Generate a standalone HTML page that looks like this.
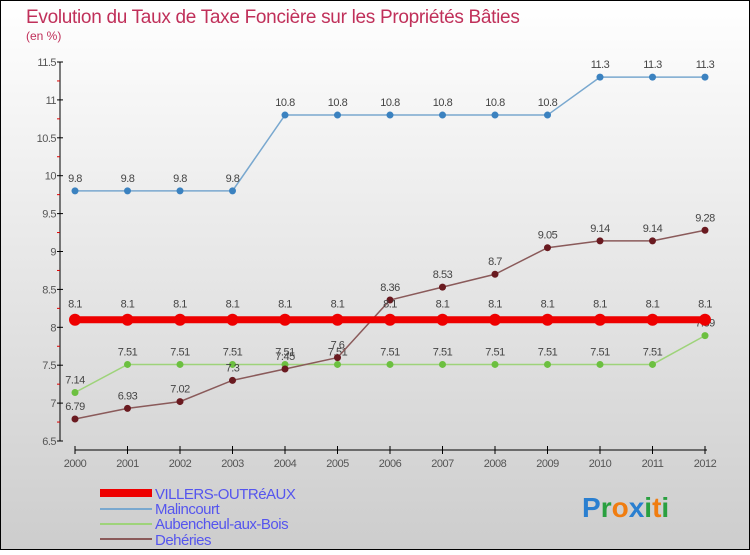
<!DOCTYPE html>
<html><head><meta charset="utf-8"><style>
html,body{margin:0;padding:0}
body{width:750px;height:550px;overflow:hidden;font-family:"Liberation Sans",sans-serif}
</style></head><body>
<svg id="chart" width="750" height="550" xmlns="http://www.w3.org/2000/svg" font-family="Liberation Sans, sans-serif">
<defs><linearGradient id="bg" x1="0" y1="0" x2="0" y2="1"><stop offset="0" stop-color="#ffffff"/><stop offset="1" stop-color="#cdcdcd"/></linearGradient></defs>
<rect x="0.5" y="0.5" width="749" height="549" fill="url(#bg)" stroke="#000"/>
<text x="26" y="23" font-size="19" fill="#c0305a" letter-spacing="-0.3">Evolution du Taux de Taxe Foncière sur les Propriétés Bâties</text>
<text x="26" y="40" font-size="12" fill="#c0305a">(en %)</text>
<g id="axes"></g>
<g id="series"></g>
<g font-size="15" fill="#5555ee">
<rect x="100" y="489" width="52" height="8" fill="#ee0000"/>
<text x="155" y="499" letter-spacing="-0.5">VILLERS-OUTRéAUX</text>
<line x1="100" y1="509" x2="152" y2="509" stroke="#79a8cf" stroke-width="2"/>
<text x="155" y="514" letter-spacing="-0.5">Malincourt</text>
<line x1="100" y1="524" x2="152" y2="524" stroke="#9ed37a" stroke-width="2"/>
<text x="155" y="529" letter-spacing="-0.5">Aubencheul-aux-Bois</text>
<line x1="100" y1="539" x2="152" y2="539" stroke="#8a5a5a" stroke-width="2"/>
<text x="155" y="545" letter-spacing="-0.5">Dehéries</text>
</g>
<g font-size="28" font-weight="bold">
<text x="582" y="517"><tspan fill="#2a7fd0">P</tspan><tspan fill="#2aa040">r</tspan><tspan fill="#f07d10">o</tspan><tspan fill="#2a7fd0">x</tspan><tspan fill="#2aa040">i</tspan><tspan fill="#f07d10">t</tspan><tspan fill="#2aa040">i</tspan></text>
</g>
</svg>
<script>
const years=["2000","2001","2002","2003","2004","2005","2006","2007","2008","2009","2010","2011","2012"];
const yTicks=[6.5,7,7.5,8,8.5,9,9.5,10,10.5,11,11.5];
const villers=[8.1,8.1,8.1,8.1,8.1,8.1,8.1,8.1,8.1,8.1,8.1,8.1,8.1];
const malincourt=[9.8,9.8,9.8,9.8,10.8,10.8,10.8,10.8,10.8,10.8,11.3,11.3,11.3];
const aubencheul=[7.14,7.51,7.51,7.51,7.51,7.51,7.51,7.51,7.51,7.51,7.51,7.51,7.89];
const deheries=[6.79,6.93,7.02,7.3,7.45,7.6,8.36,8.53,8.7,9.05,9.14,9.14,9.28];
const NS="http://www.w3.org/2000/svg";
const x=i=>75+i*52.5;
const y=v=>441-(v-6.5)*75.8;
function mk(t,a,p){const e=document.createElementNS(NS,t);for(const k in a)e.setAttribute(k,a[k]);p.appendChild(e);return e;}
const ax=document.getElementById('axes');
const yl=mk('line',{x1:60,y1:y(11.5),x2:60,y2:441,stroke:'#000'},ax);


yTicks.forEach(v=>{
 mk('line',{x1:57,y1:y(v),x2:63,y2:y(v),stroke:'#000'},ax);
 mk('line',{x1:57,y1:y(v+0.25),x2:60,y2:y(v+0.25),stroke:v<11.5?'#d00':'none'},ax);
 const t=mk('text',{x:56,y:y(v)+4,'font-size':11,fill:'#555','text-anchor':'end','letter-spacing':'-0.5'},ax);
 t.textContent=String(v);
 
 
});
const xl=mk('line',{x1:x(0),y1:450,x2:x(12)+2,y2:450,stroke:'#000'},ax);


years.forEach((yr,i)=>{
 mk('line',{x1:x(i),y1:446,x2:x(i),y2:454,stroke:'#000'},ax);
 const t=mk('text',{x:x(i),y:467,'font-size':11,fill:'#555','text-anchor':'middle','letter-spacing':'-0.5'},ax);
 t.textContent=yr;
 
 
});
const sg=document.getElementById('series');
function series(name,data,color,dot,w,r,labelDy){
 const g=mk('g',{},sg);
 
 
 const l=mk('polyline',{points:data.map((v,i)=>x(i)+','+y(v)).join(' '),fill:'none',stroke:color,'stroke-width':w},g);
 
 
 data.forEach((v,i)=>{
  const c=mk('circle',{cx:x(i),cy:y(v),r:r,fill:dot},g);
  
  
  const t=mk('text',{x:x(i),y:y(v)+labelDy,'font-size':11,fill:'#444','text-anchor':'middle','letter-spacing':'-0.5'},g);
  t.textContent=String(v);
  
  
 });
}
series('malincourt',malincourt,'#79a8cf','#3b82c0',1.5,3.5,-9);
series('aubencheul',aubencheul,'#9ed37a','#6cc040',1.5,3.5,-9);
series('deheries',deheries,'#8a5a5a','#6a1a20',1.5,3.5,-9);
series('villers',villers,'#ee0000','#ee0000',7,6,-12);
</script>
</body></html>
